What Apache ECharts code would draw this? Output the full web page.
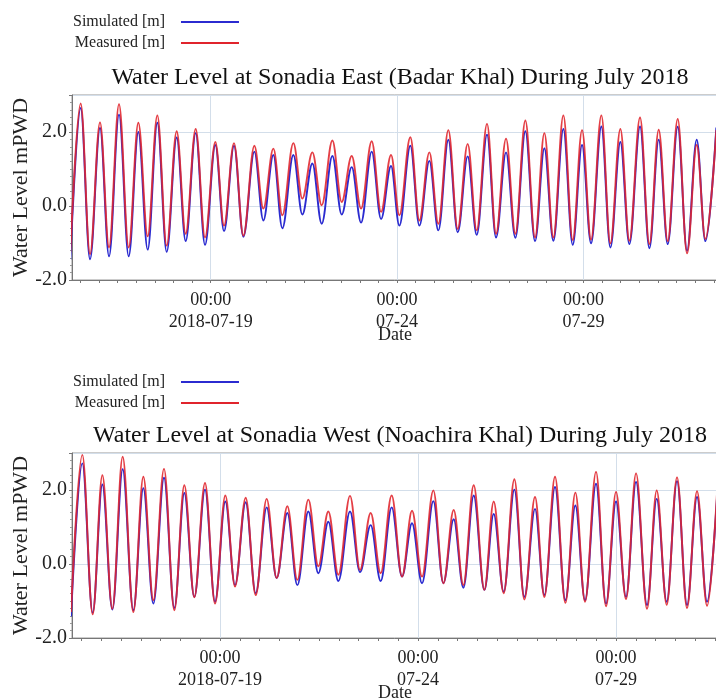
<!DOCTYPE html>
<html>
<head>
<meta charset="utf-8">
<script src="https://cdn.jsdelivr.net/npm/echarts@6/dist/echarts.min.js"></script>
<style>
  html, body { margin: 0; padding: 0; background: #ffffff; }
  #chart { width: 716px; height: 698px; }
</style>
</head>
<body>
<div id="chart"></div>
<script>
// Times are hours after 2018-07-19 00:00 (high and low waters)
const eastHours = [-90.4, -83.74, -77.73, -71.29, -65.49, -59.05, -52.83, -46.60, -40.59, -34.37, -28.36, -21.92, -16.12, -9.68, -3.67,
  2.99, 8.57, 15.01, 21.02, 28.10, 33.90, 40.34, 46.13, 53.22, 59.01, 65.46, 71.47, 78.34, 84.35, 90.79, 96.80, 103.67, 109.68,
  116.12, 121.48, 128.56, 134.36, 140.80, 146.59, 153.03, 159.04, 165.48, 171.28, 177.93, 183.73, 190.17, 196.18, 202.62, 208.85,
  214.86, 220.65, 227.09, 233.11, 239.12, 244.91, 251.57, 257.36, 263.80, 269.60, 276.47, 282.48, 288.49, 294.29, 300.73, 306.74,
  312.96, 318.54, 325.6];
const eastMeasured = [-1.25, 2.77, -1.30, 2.26, -1.12, 2.75, -1.12, 2.25, -0.82, 2.45, -1.07, 2.02, -0.75, 2.08, -0.85,
  1.73, -0.53, 1.70, -0.80, 1.63, -0.07, 1.55, -0.25, 1.70, 0.20, 1.45, 0.02, 1.77, 0.11, 1.35, -0.07, 1.75, -0.16,
  1.38, -0.25, 1.86, -0.39, 1.45, -0.48, 2.05, -0.62, 1.68, -0.66, 2.22, -0.75, 1.82, -0.75, 2.31, -0.85,
  1.97, -0.85, 2.45, -0.92, 2.05, -0.91, 2.45, -1.01, 2.08, -0.94, 2.39, -1.03, 2.06, -0.95, 2.35, -1.28,
  1.65, -0.89, 2.05];
const eastSimulated = [-1.45, 2.65, -1.44, 2.11, -1.36, 2.47, -1.36, 2.00, -1.18, 2.25, -1.24, 1.85, -0.95, 1.97, -1.05,
  1.65, -0.68, 1.63, -0.83, 1.47, -0.39, 1.38, -0.60, 1.38, -0.23, 1.15, -0.48, 1.35, -0.23, 1.05, -0.45, 1.47, -0.35,
  1.08, -0.53, 1.63, -0.53, 1.22, -0.66, 1.79, -0.71, 1.34, -0.78, 1.93, -0.85, 1.45, -0.86, 2.02, -0.95,
  1.56, -0.94, 2.08, -1.05, 1.65, -1.01, 2.15, -1.12, 1.73, -1.03, 2.15, -1.14, 1.79, -1.03, 2.14, -1.21,
  1.79, -0.95, 2.12];

const westHours = [-90.3, -83.44, -77.17, -71.31, -65.25, -58.99, -52.53, -46.47, -40.40, -33.94, -27.68, -21.62, -15.56, -9.09, -3.03,
  3.23, 9.09, 15.55, 21.62, 28.28, 34.34, 40.81, 46.87, 53.53, 59.59, 65.66, 71.72, 78.79, 84.85, 91.31, 97.37, 104.04, 110.31,
  116.37, 122.43, 129.30, 135.36, 141.62, 147.48, 153.74, 160.21, 165.86, 171.92, 178.39, 184.45, 190.91, 196.57, 203.03, 209.30,
  215.36, 221.22, 227.88, 233.94, 240.00, 246.06, 252.13, 258.79, 264.65, 270.71, 276.97, 283.03, 289.09, 295.16, 301.62];
const westMeasured = [-1.30, 2.95, -1.36, 2.40, -1.21, 2.90, -1.30, 2.36, -0.98, 2.57, -1.25, 2.13, -0.90, 2.19, -1.07,
  1.85, -0.61, 1.79, -0.84, 1.76, -0.38, 1.56, -0.43, 1.74, -0.06, 1.42, -0.29, 1.84, -0.16, 1.38, -0.25, 1.85, -0.34,
  1.44, -0.34, 1.99, -0.52, 1.46, -0.57, 2.13, -0.70, 1.69, -0.79, 2.29, -0.96, 1.81, -0.89, 2.36, -1.05,
  1.93, -1.02, 2.49, -1.14, 1.95, -0.95, 2.45, -1.21, 1.99, -1.10, 2.34, -1.19, 1.97, -1.13, 2.24];
const westSimulated = [-1.42, 2.72, -1.32, 2.15, -1.23, 2.56, -1.25, 2.05, -1.07, 2.33, -1.19, 1.92, -0.89, 2.01, -1.02,
  1.69, -0.57, 1.67, -0.79, 1.53, -0.38, 1.38, -0.57, 1.42, -0.25, 1.14, -0.46, 1.42, -0.22, 1.05, -0.46, 1.53, -0.34,
  1.10, -0.52, 1.70, -0.52, 1.21, -0.64, 1.85, -0.70, 1.35, -0.75, 2.01, -0.89, 1.49, -0.84, 2.08, -0.98,
  1.58, -0.98, 2.17, -1.07, 1.69, -0.89, 2.22, -1.11, 1.76, -1.02, 2.24, -1.11, 1.81, -1.02, 2.10];

const labelHours = [0, 120, 240];
const labelTexts = ['00:00\n2018-07-19', '00:00\n07-24', '00:00\n07-29'];
const yLabels = [-2, 0, 2];
const seriesNames = ['Simulated [m]', 'Measured [m]'];
const titles = ['Water Level at Sonadia East (Badar Khal) During July 2018',
                'Water Level at Sonadia West (Noachira Khal) During July 2018'];

const SERIF = 'Liberation Serif';
const BLUE = '#2b2bd0';
const RED = '#e0242c';
const GRIDC = '#d3deea';

const tickHours = [];
for (let h = -84; h <= 324; h += 12) tickHours.push(h);

function pairs(xs, ys) { return xs.map((x, i) => [x, ys[i]]); }

function xAxisFor(gi, min, max) {
  return {
    type: 'value', gridIndex: gi, min: min, max: max,
    axisLine: { show: true, onZero: false, lineStyle: { color: '#777', width: 1 } },
    axisTick: { show: true, customValues: tickHours, length: 3, lineStyle: { color: '#777' } },
    axisLabel: {
      customValues: labelHours,
      formatter: v => { const i = labelHours.indexOf(v); return i >= 0 ? labelTexts[i] : ''; },
      fontFamily: SERIF, fontSize: 18, color: '#222', lineHeight: 22, margin: 9
    },
    splitLine: { show: false },
    name: 'Date', nameLocation: 'middle', nameGap: 46, nameMoveOverlap: false,
    nameTextStyle: { fontFamily: SERIF, fontSize: 18, color: '#222' }
  };
}
function yAxisFor(gi) {
  return {
    type: 'value', gridIndex: gi, min: -2, max: 3, interval: 2,
    axisLine: { show: true, onZero: false, lineStyle: { color: '#777', width: 1 } },
    axisTick: { show: true, length: 3, lineStyle: { color: '#777' } },
    minorTick: { show: true, splitNumber: 10, length: 2, lineStyle: { color: '#999' } },
    axisLabel: {
      formatter: v => (yLabels.indexOf(v) >= 0 ? v.toFixed(1) : ''),
      fontFamily: SERIF, fontSize: 20, color: '#222', margin: 5
    },
    splitLine: { show: true, lineStyle: { color: GRIDC, width: 1 } },
    name: 'Water Level mPWD', nameLocation: 'middle', nameGap: 40, nameMoveOverlap: false,
    nameTextStyle: { fontFamily: SERIF, fontSize: 22, color: '#222' }
  };
}
function lineSeries(name, gi, data, color, z, withGrid) {
  const s = {
    name: name, type: 'line', xAxisIndex: gi, yAxisIndex: gi,
    data: data, showSymbol: false, symbol: 'none',
    smooth: 0.36, smoothMonotone: 'x', clip: true, z: z,
    color: color,
    lineStyle: { color: color, width: 1.9, opacity: name === seriesNames[1] ? 0.88 : 1 },
    emphasis: { disabled: true }
  };
  if (withGrid) {
    s.markLine = {
      silent: true, symbol: 'none', z: 1, animation: false,
      label: { show: false },
      lineStyle: { color: GRIDC, width: 1, type: 'solid' },
      data: labelHours.map(h => ({ xAxis: h }))
    };
  }
  return s;
}
function legendFor(top) {
  return {
    top: top, left: 68, orient: 'vertical', align: 'right',
    icon: 'rect', itemWidth: 58, itemHeight: 2, itemGap: 5,
    selectedMode: false,
    textStyle: { fontFamily: SERIF, fontSize: 16, color: '#222', lineHeight: 16, padding: [0, 11, 0, 0] },
    data: seriesNames
  };
}
function titleFor(text, top) {
  return {
    text: text, left: 400, top: top, textAlign: 'center', padding: 0,
    textStyle: { fontFamily: SERIF, fontSize: 24, fontWeight: 'normal', color: '#111' }
  };
}
function gridFor(top) {
  return {
    left: 72, right: -2, top: top, height: 185,
    containLabel: false, outerBoundsMode: 'none',
    show: true, borderColor: '#999', borderWidth: 1
  };
}

const chart = echarts.init(document.getElementById('chart'), null, { renderer: 'canvas' });
chart.setOption({
  animation: false,
  backgroundColor: '#ffffff',
  title: [titleFor(titles[0], 66), titleFor(titles[1], 424)],
  legend: [legendFor(9), legendFor(369)],
  grid: [gridFor(95), gridFor(453)],
  xAxis: [xAxisFor(0, -89.33, 326.67), xAxisFor(1, -89.7, 301.8)],
  yAxis: [yAxisFor(0), yAxisFor(1)],
  series: [
    lineSeries(seriesNames[0], 0, pairs(eastHours, eastSimulated), BLUE, 2, true),
    lineSeries(seriesNames[1], 0, pairs(eastHours, eastMeasured), RED, 3, false),
    lineSeries(seriesNames[0], 1, pairs(westHours, westSimulated), BLUE, 2, true),
    lineSeries(seriesNames[1], 1, pairs(westHours, westMeasured), RED, 3, false)
  ]
});
</script>
</body>
</html>
